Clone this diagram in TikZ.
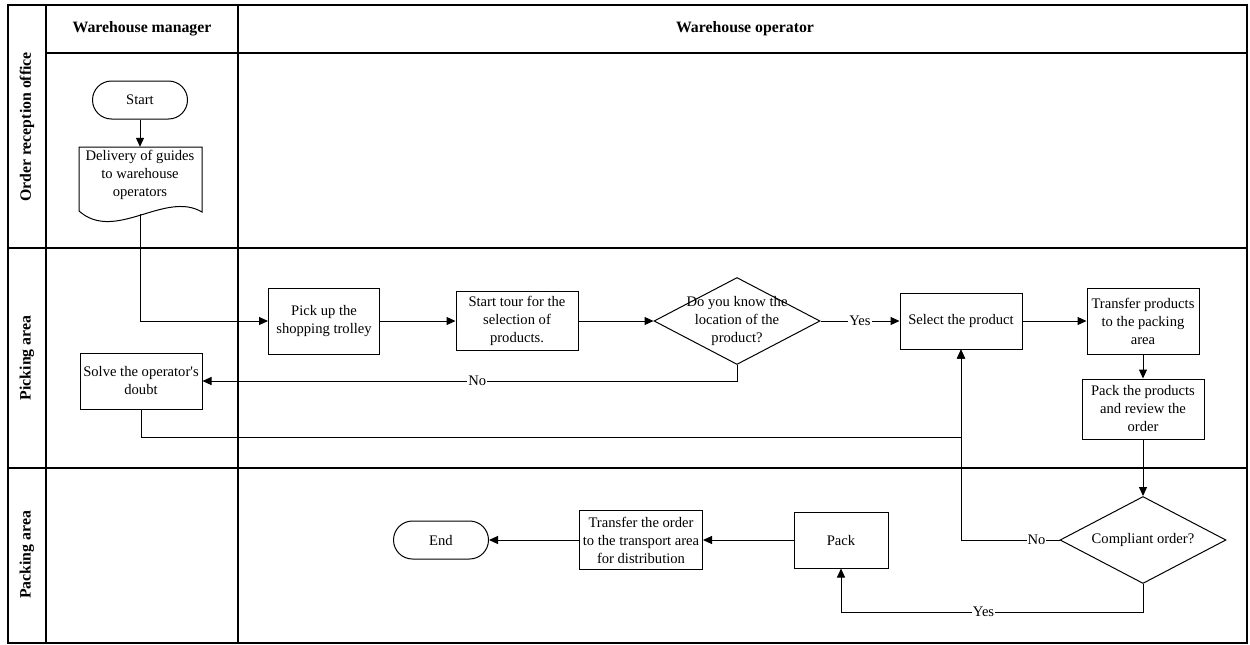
\documentclass[tikz,border=0pt]{standalone}
\usepackage{fontspec}
\setmainfont{Liberation Serif}
\usetikzlibrary{shapes.geometric,arrows.meta}
\begin{document}
\begin{tikzpicture}[x=1pt,y=-1pt,
  every node/.style={font=\fontsize{14.6}{18}\selectfont, inner sep=0pt},
  lane/.style={line width=1.1pt, draw=black},
  box/.style={draw, line width=1pt, align=center},
  term/.style={draw, line width=1pt, rounded corners=19pt, minimum width=95pt, minimum height=38pt},
  dec/.style={draw, line width=1pt, diamond, minimum width=166pt, minimum height=87pt},
  hdr/.style={font=\fontsize{15.8}{18}\selectfont\bfseries},
  conn/.style={line width=1pt, -{Triangle[length=9pt,width=8pt]}},
  lab/.style={fill=white, inner sep=1pt, font=\fontsize{14.6}{16}\selectfont}]
\useasboundingbox (0,0) rectangle (1250,645);
\fill[white] (0,0) rectangle (1250,645);
% swimlanes
\draw[lane] (8,5) rectangle (1247,643);
\draw[lane] (46,5) -- (46,643);
\draw[lane] (238,5) -- (238,643);
\draw[lane] (46,53) -- (1247,53);
\draw[lane] (8,248) -- (1247,248);
\draw[lane] (8,468) -- (1247,468);
\node[hdr] (hm) at (142,29) {Warehouse manager};
\node[hdr] (ho) at (745,29) {Warehouse operator};
\node[hdr, rotate=90] (r1) at (27,127) {Order reception office};
\node[hdr, rotate=90] (r2) at (27,358) {Picking area};
\node[hdr, rotate=90] (r3) at (27,555) {Packing area};
% nodes
\node[term] (start) at (140,100) {Start};
\node[align=center, minimum width=123pt, minimum height=56pt] (doc) at (140,175) {Delivery of guides\\to warehouse\\operators};
\draw[line width=1pt] (79,211) -- (79,147) -- (202,147) -- (202,212) .. controls (165,190) and (115,243) .. (79,211);
\coordinate (docb) at (140,214);
\node[box, minimum width=111pt, minimum height=66pt] (pick) at (324,321) {Pick up the\\shopping trolley};
\node[box, minimum width=122pt, minimum height=56pt] (solve) at (141,381) {Solve the operator\textquotesingle s\\doubt};
\node[box, minimum width=122pt, minimum height=59pt] (tour) at (517,321) {Start tour for the\\selection of\\products.};
\node[dec] (d1) at (737,321) {};
\node[align=center] (d1t) at (737,321) {Do you know the\\location of the\\product?};
\node[box, minimum width=122pt, minimum height=56pt] (sel) at (961,321) {Select the product};
\node[box, minimum width=112pt, minimum height=66pt] (tr1) at (1143,321) {Transfer products\\to the packing\\area};
\node[box, minimum width=122pt, minimum height=60pt] (pk1) at (1143,409) {Pack the products\\and review the\\order};
\node[dec] (d2) at (1143,540) {};
\node (d2t) at (1143,540) {Compliant order?};
\node[box, minimum width=94pt, minimum height=56pt] (pack) at (841,540) {Pack};
\node[box, minimum width=123pt, minimum height=59pt] (tro) at (641,540) {Transfer the order\\to the transport area\\for distribution};
\node[term] (end) at (441,540) {End};
\coordinate (j1) at (141,437);
\coordinate (j2) at (1143,612);
% connectors
\draw[conn] (start) -- (doc);
\draw[conn] (docb) |- (pick.west);
\draw[conn] (pick) -- (tour);
\draw[conn] (tour) -- (d1.west);
\draw[conn] (d1.east) -- node[lab] {Yes} (sel.west);
\draw[conn] (d1.south) |- node[lab, pos=0.743] {No} (solve.east);
\draw[conn] (solve.south) -- (j1) -| (sel.south);
\draw[conn] (sel) -- (tr1);
\draw[conn] (tr1) -- (pk1);
\draw[conn] (pk1) -- (d2.north);
\draw[conn] (d2.west) -| node[lab, pos=0.117] {No} (sel.south);
\draw[conn] (d2.south) -- (j2) -| node[lab, pos=0.264] {Yes} (pack.south);
\draw[conn] (pack) -- (tro);
\draw[conn] (tro) -- (end);
\end{tikzpicture}
\end{document}
